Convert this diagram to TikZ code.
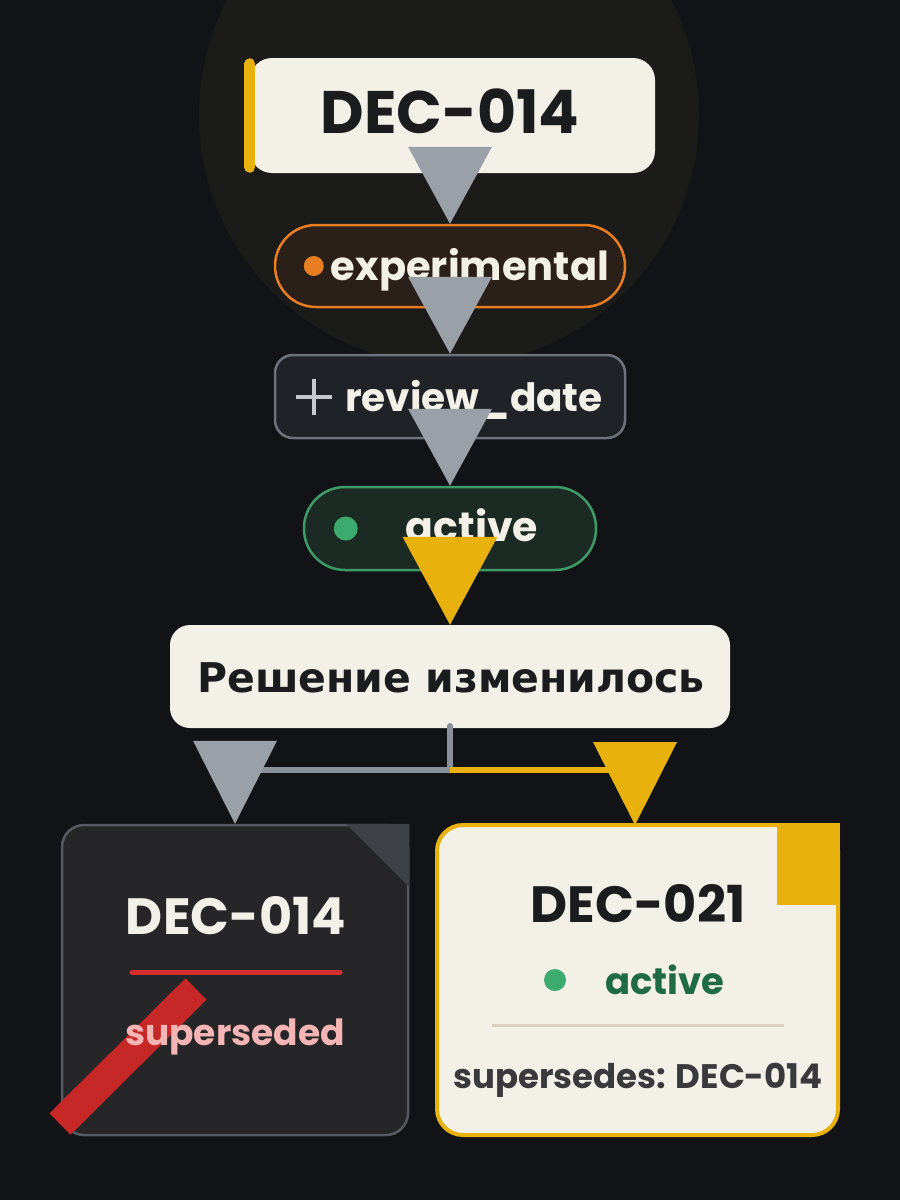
\documentclass[tikz,border=0pt]{standalone}
\usepackage{fontspec}
\setmainfont{Poppins}
\newfontfamily\rufont{DejaVu Sans}
\usetikzlibrary{arrows.meta}

\definecolor{bgdark}{HTML}{121316}
\definecolor{glow}{HTML}{1B1B19}
\definecolor{cream}{HTML}{F3F0E8}
\definecolor{ink}{HTML}{1A1C1E}
\definecolor{gold}{HTML}{E8B10E}
\definecolor{arrgray}{HTML}{9AA0A8}
\definecolor{linegray}{HTML}{8A9099}
\definecolor{orng}{HTML}{E87D22}
\definecolor{brownfill}{HTML}{2B2019}
\definecolor{slatefill}{HTML}{1F2227}
\definecolor{slateline}{HTML}{6E737B}
\definecolor{plusgray}{HTML}{C5C9CF}
\definecolor{grnline}{HTML}{3E9B68}
\definecolor{grnfill}{HTML}{1B2A22}
\definecolor{grndot}{HTML}{3DAA6E}
\definecolor{grntext}{HTML}{1F6B45}
\definecolor{oldfill}{HTML}{262629}
\definecolor{oldline}{HTML}{56595F}
\definecolor{foldgray}{HTML}{3E4146}
\definecolor{strike}{HTML}{D32F2F}
\definecolor{stripe}{HTML}{C62828}
\definecolor{pink}{HTML}{F5B5B5}
\definecolor{rule}{HTML}{D8D1C0}
\definecolor{muted}{HTML}{3A3A3D}

\tikzset{
  box/.style={minimum width=#1, inner sep=0pt},
  pill/.style={box=#1, minimum height=82pt, rounded corners=41pt, line width=2.5pt},
  lbl/.style={anchor=base, inner sep=0pt, font=\bfseries\fontsize{39}{41}\selectfont, text=cream},
  garr/.style={draw=linegray, line width=6.5pt,
    -{Triangle[width=84pt, length=77pt, line width=0pt, color=arrgray]}},
  yarr/.style={draw=gold, line width=6.5pt,
    -{Triangle[width=95pt, length=88pt, line width=0pt]}}
}

\begin{document}
\begin{tikzpicture}[x=1pt, y=-1pt]
  \useasboundingbox (0,0) rectangle (900,1200);
  \fill[bgdark] (0,0) rectangle (900,1200);
  \fill[glow] (449,115) circle (250);

  \node[box=405pt, minimum height=115pt, fill=cream, rounded corners=22pt] (dec) at (452.5,115.5) {};
  \draw[gold, line width=11pt, line cap=round] ([yshift=-6pt]dec.north west) -- ([yshift=6pt]dec.south west);
  \node[lbl, text=ink, font=\bfseries\fontsize{60}{62}\selectfont] (decid) at (450,133) {DEC-014};

  \node[pill=350pt, draw=orng, fill=brownfill] (exp) at (450,266) {};
  \fill[orng] ([xshift=40pt]exp.west) circle (10);
  \node[lbl, font=\bfseries\fontsize{40}{42}\selectfont] (explbl) at (470,280) {experimental};

  \node[box=350pt, minimum height=83pt, rounded corners=18pt, line width=2.5pt, draw=slateline, fill=slatefill] (rev) at (450,396.5) {};
  \draw[plusgray, line width=4pt] ([xshift=22pt]rev.west) -- ++(36,0) ([xshift=40pt]rev.west) ++(0,-18) -- ++(0,36);
  \node[lbl] (revlbl) at (474,411) {review\_date};

  \node[pill=292pt, minimum height=83pt, draw=grnline, fill=grnfill] (act) at (450,528.5) {};
  \fill[grndot] ([xshift=43pt]act.west) circle (12);
  \node[lbl, font=\bfseries\fontsize{41}{43}\selectfont] (actlbl) at (472,541) {active};

  \node[box=560pt, minimum height=103pt, fill=cream, rounded corners=20pt] (chg) at (450,676.5) {};
  \node[lbl, text=ink, font=\rufont\bfseries\fontsize{41}{43}\selectfont] (chglbl) at (451,692) {Решение изменилось};

  \node[box=346pt, minimum height=310pt, fill=oldfill, draw=oldline, line width=2.5pt, rounded corners=22pt] (old) at (235,980) {};
  \fill[foldgray] ([xshift=-63pt]old.north east) -- (old.north east) -- ([yshift=-63pt]old.north east) -- cycle;
  \node[lbl, text=cream, font=\bfseries\fontsize{51}{53}\selectfont] (oldid) at (236,934) {DEC-014};
  \draw[strike, line width=5pt, line cap=round] (132,972) -- (340,972);
  \draw[stripe, line width=30pt] (196,989) -- (60,1124);
  \node[lbl, text=pink, font=\bfseries\fontsize{36}{38}\selectfont] (oldst) at (235,1045) {superseded};

  \node[box=401pt, minimum height=310pt, fill=cream, draw=gold, line width=4pt, rounded corners=26pt] (new) at (637.5,980) {};
  \fill[gold] ([xshift=-63pt]new.north east) rectangle ([yshift=-82pt]new.north east);
  \node[lbl, text=ink, font=\bfseries\fontsize{51}{53}\selectfont] (newid) at (638,922) {DEC-021};
  \fill[grndot] (555,980) circle (11);
  \node[lbl, text=grntext, font=\bfseries\fontsize{37}{39}\selectfont] (newst) at (665,994) {active};
  \draw[rule, line width=3pt] (492,1025) -- (784,1025);
  \node[lbl, text=muted, font=\bfseries\fontsize{34}{36}\selectfont] (newsup) at (638,1088) {supersedes: DEC-014};

  \draw[garr] (exp.north |- dec.south) -- (exp.north);
  \draw[garr] (exp.south) -- (rev.north);
  \draw[garr] (rev.south) -- (act.north);
  \draw[yarr] (act.south) -- (chg.north);

  \coordinate (split) at (450,770);
  \draw[draw=linegray, line width=6.5pt, line cap=round] ([yshift=2pt]chg.south) -- (split);
  \draw[garr, -{Triangle[width=84pt, length=83pt, line width=0pt, color=arrgray]}] (split) -| (old.north);
  \draw[yarr, -{Triangle[width=84pt, length=83pt, line width=0pt]}] (split) -| (635,825);
\end{tikzpicture}
\end{document}
